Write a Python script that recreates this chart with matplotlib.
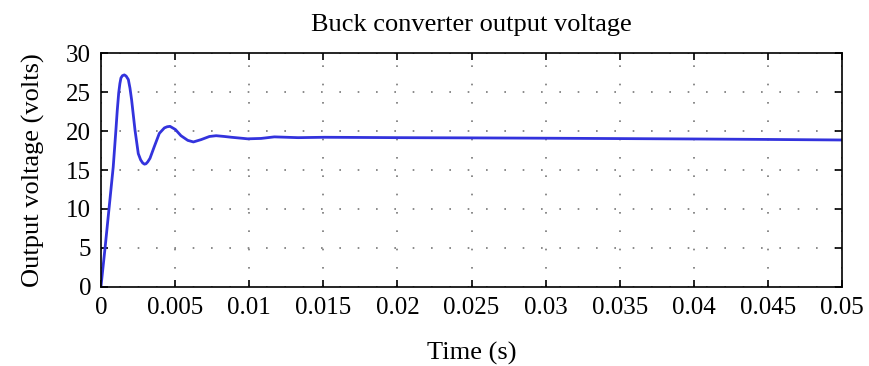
import matplotlib
matplotlib.use("Agg")
import matplotlib.pyplot as plt

plt.rcParams['font.family'] = ['Liberation Serif', 'DejaVu Serif']

time_s = [0.0, 0.00029, 0.00056, 0.00083, 0.00101, 0.0011, 0.0012, 0.00128,
          0.00135, 0.00145, 0.00158, 0.0017, 0.00185, 0.00196, 0.00207, 0.0023,
          0.00252, 0.00268, 0.00282, 0.00294, 0.00304, 0.00316, 0.00331, 0.0036,
          0.00394, 0.00428, 0.00447, 0.00466, 0.00502, 0.0054, 0.00586, 0.00624,
          0.00676, 0.00732, 0.00777, 0.00833, 0.0088, 0.0099, 0.0108, 0.0117,
          0.0133, 0.0151, 0.02, 0.025, 0.03, 0.035, 0.04, 0.045, 0.05]
voltage = [0.0, 5.2, 10.3, 15.4, 20.1, 22.6, 24.9, 26.1,
           26.8, 27.1, 27.2, 27.05, 26.6, 25.5, 24.0, 20.1,
           17.1, 16.3, 15.9, 15.75, 15.8, 16.05, 16.5, 18.0,
           19.7, 20.4, 20.55, 20.6, 20.2, 19.4, 18.8, 18.6,
           18.9, 19.3, 19.4, 19.3, 19.2, 19.0, 19.05, 19.25,
           19.15, 19.2, 19.15, 19.12, 19.08, 19.03, 18.98, 18.92, 18.85]

xticks = [0, 0.005, 0.01, 0.015, 0.02, 0.025, 0.03, 0.035, 0.04, 0.045, 0.05]
xticklabels = ['0', '0.005', '0.01', '0.015', '0.02', '0.025', '0.03', '0.035', '0.04', '0.045', '0.05']
yticks = [0, 5, 10, 15, 20, 25, 30]

fig = plt.figure(figsize=(8.7, 3.66), dpi=100)
ax = fig.add_axes([0.116, 0.216, 0.852, 0.639])
ax.plot(time_s, voltage, color='#3333dd', lw=2.0)
ax.set_xlim(0, 0.05)
ax.set_ylim(0, 30)
ax.set_xticks(xticks)
ax.set_xticklabels(xticklabels)
ax.set_yticks(yticks)
ax.tick_params(direction='in', top=True, right=True, length=5, width=1.2,
               labelsize=18, pad=7, colors='black')
ax.grid(True, color='#777777', linestyle=(0, (1, 10)), lw=1.2)
for s in ax.spines.values():
    s.set_linewidth(1.2)
ax.set_title('Buck converter output voltage', fontsize=19, pad=16)
ax.set_xlabel('Time (s)', fontsize=19, labelpad=17)
ax.set_ylabel('Output voltage (volts)', fontsize=19, labelpad=15)
fig.savefig('out.png', dpi=100)
